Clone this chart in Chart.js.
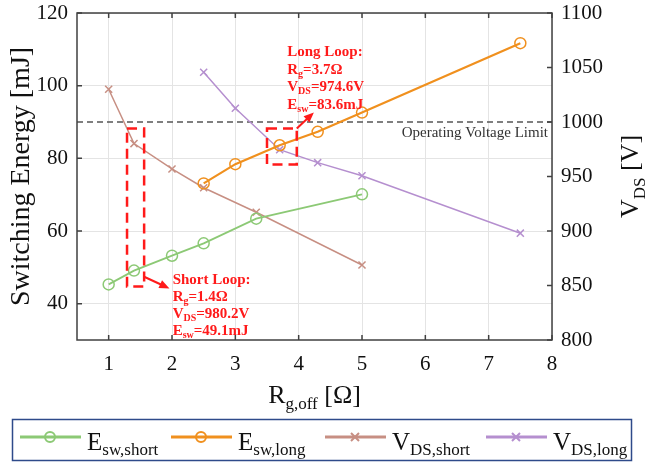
<!DOCTYPE html>
<html>
<head>
<meta charset="utf-8">
<script src="https://cdn.jsdelivr.net/npm/chart.js@4.4.1/dist/chart.umd.min.js"></script>
<style>
body { margin: 0; background: #fff; }
#wrap { width: 647px; height: 463px; }
</style>
</head>
<body>
<div id="wrap"><canvas id="swChart"></canvas></div>
<script>
// values
const rgShort = [1, 1.4, 2, 2.5, 3.33, 5];
const eswShort = [45.3, 49.1, 53.2, 56.6, 63.4, 70.1];
const vdsShort = [1030, 980.2, 956.9, 939.7, 917.2, 868.8];

const rgLong = [2.5, 3, 3.7, 4.3, 5, 7.5];
const eswLong = [73.1, 78.4, 83.6, 87.3, 92.6, 111.7];
const vdsLong = [1045.6, 1012.6, 974.6, 962.7, 950.7, 898];

const xTicks = [1, 2, 3, 4, 5, 6, 7, 8];
const leftTicks = [40, 60, 80, 100, 120];
const rightTicks = [800, 850, 900, 950, 1000, 1050, 1100];
const voltageLimit = 1000;
const limitLabel = 'Operating Voltage Limit';

// legend / titles as [text, isSubscript] pieces
const legendLabels = [
    [['E', 0], ['sw,short', 1]],
    [['E', 0], ['sw,long', 1]],
    [['V', 0], ['DS,short', 1]],
    [['V', 0], ['DS,long', 1]]
];
const leftTitle = [['Switching Energy [mJ]', 0]];
const rightTitle = [['V', 0], ['DS', 1], [' [V]', 0]];
const xTitle = [['R', 0], ['g,off', 1], [' [Ω]', 0]];

const longNote = [
    [['Long Loop:', 0]],
    [['R', 0], ['g', 1], ['=3.7Ω', 0]],
    [['V', 0], ['DS', 1], ['=974.6V', 0]],
    [['E', 0], ['sw', 1], ['=83.6mJ', 0]]
];
const shortNote = [
    [['Short Loop:', 0]],
    [['R', 0], ['g', 1], ['=1.4Ω', 0]],
    [['V', 0], ['DS', 1], ['=980.2V', 0]],
    [['E', 0], ['sw', 1], ['=49.1mJ', 0]]
];

const colors = ['#8cc975', '#f0901e', '#c78f83', '#b58fcf'];
const serif = "'Times New Roman', 'Liberation Serif', serif";
const red = '#ff1a1a';

function pts(xs, ys) {
    return xs.map((x, i) => ({x: x, y: ys[i]}));
}

function drawRich(ctx, parts, x, y, font, subFont, drop) {
    parts.forEach(p => {
        ctx.font = p[1] ? subFont : font;
        ctx.fillText(p[0], x, p[1] ? y + drop : y);
        x += ctx.measureText(p[0]).width;
    });
    return x;
}

function richWidth(ctx, parts, font, subFont) {
    let w = 0;
    parts.forEach(p => {
        ctx.font = p[1] ? subFont : font;
        w += ctx.measureText(p[0]).width;
    });
    return w;
}

function drawArrow(ctx, x1, y1, x2, y2) {
    const a = Math.atan2(y2 - y1, x2 - x1);
    const len = 11;
    ctx.beginPath();
    ctx.moveTo(x1, y1);
    ctx.lineTo(x2 - Math.cos(a) * len * 0.8, y2 - Math.sin(a) * len * 0.8);
    ctx.stroke();
    ctx.beginPath();
    ctx.moveTo(x2, y2);
    ctx.lineTo(x2 - len * Math.cos(a - 0.4), y2 - len * Math.sin(a - 0.4));
    ctx.lineTo(x2 - len * Math.cos(a + 0.4), y2 - len * Math.sin(a + 0.4));
    ctx.closePath();
    ctx.fill();
}

const extras = {
    id: 'extras',
    beforeDatasetsDraw(chart) {
        const ctx = chart.ctx;
        const area = chart.chartArea;
        const yr = chart.scales.yR;
        const yl = yr.getPixelForValue(voltageLimit);
        ctx.save();
        ctx.strokeStyle = '#555';
        ctx.lineWidth = 1.5;
        ctx.setLineDash([6, 4]);
        ctx.beginPath();
        ctx.moveTo(area.left, yl);
        ctx.lineTo(area.right, yl);
        ctx.stroke();
        ctx.setLineDash([]);
        ctx.fillStyle = '#333';
        ctx.font = '15px ' + serif;
        ctx.textAlign = 'right';
        ctx.fillText(limitLabel, area.right - 4, yl + 15);
        ctx.restore();
    },
    afterDatasetsDraw(chart) {
        const ctx = chart.ctx;
        const area = chart.chartArea;
        const xs = chart.scales.x, ys = chart.scales.y, yr = chart.scales.yR;
        ctx.save();

        // box and inward ticks
        ctx.strokeStyle = '#404040';
        ctx.lineWidth = 1.5;
        ctx.strokeRect(area.left, area.top, area.right - area.left, area.bottom - area.top);
        ctx.beginPath();
        xTicks.forEach(v => {
            const px = xs.getPixelForValue(v);
            ctx.moveTo(px, area.bottom); ctx.lineTo(px, area.bottom - 5);
            ctx.moveTo(px, area.top); ctx.lineTo(px, area.top + 5);
        });
        leftTicks.forEach(v => {
            const py = ys.getPixelForValue(v);
            ctx.moveTo(area.left, py); ctx.lineTo(area.left + 5, py);
        });
        rightTicks.forEach(v => {
            const py = yr.getPixelForValue(v);
            ctx.moveTo(area.right, py); ctx.lineTo(area.right - 5, py);
        });
        ctx.stroke();

        // red dashed boxes around the chosen points
        ctx.strokeStyle = red;
        ctx.fillStyle = red;
        ctx.lineWidth = 2.5;
        ctx.setLineDash([10, 6]);
        const boxes = [[1.29, 1.56, 88.2, 44.7], [3.5, 3.97, 88.2, 78.3]];
        boxes.forEach(b => {
            const x1 = xs.getPixelForValue(b[0]), x2 = xs.getPixelForValue(b[1]);
            const y1 = ys.getPixelForValue(b[2]), y2 = ys.getPixelForValue(b[3]);
            ctx.strokeRect(x1, y1, x2 - x1, y2 - y1);
        });
        ctx.setLineDash([]);
        ctx.lineWidth = 2;
        drawArrow(ctx, xs.getPixelForValue(3.97), ys.getPixelForValue(88.2),
            xs.getPixelForValue(4.24), ys.getPixelForValue(92.6));
        drawArrow(ctx, xs.getPixelForValue(1.56), ys.getPixelForValue(47.4),
            xs.getPixelForValue(1.96), ys.getPixelForValue(44.2));

        // notes
        const nf = 'bold 15px ' + serif, nsf = 'bold 10px ' + serif;
        let lx = xs.getPixelForValue(3.82), ly = ys.getPixelForValue(108.1);
        longNote.forEach((line, i) => drawRich(ctx, line, lx, ly + i * 17.5, nf, nsf, 3));
        lx = xs.getPixelForValue(2.01); ly = ys.getPixelForValue(45.3);
        shortNote.forEach((line, i) => drawRich(ctx, line, lx, ly + i * 17, nf, nsf, 3));

        // axis titles
        ctx.fillStyle = '#111';
        const tf = '26px ' + serif, tsf = '17px ' + serif;
        const midY = (area.top + area.bottom) / 2;
        const lt = '28px ' + serif;
        let w = richWidth(ctx, leftTitle, lt, tsf);
        ctx.save();
        ctx.translate(29, midY);
        ctx.rotate(-Math.PI / 2);
        drawRich(ctx, leftTitle, -w / 2, 0, lt, tsf, 6);
        ctx.restore();
        w = richWidth(ctx, rightTitle, tf, tsf);
        ctx.save();
        ctx.translate(638, midY);
        ctx.rotate(-Math.PI / 2);
        drawRich(ctx, rightTitle, -w / 2, 0, tf, tsf, 7);
        ctx.restore();
        w = richWidth(ctx, xTitle, tf, tsf);
        drawRich(ctx, xTitle, (area.left + area.right) / 2 - w / 2, 403, tf, tsf, 6);

        // legend
        ctx.strokeStyle = '#2e4a8a';
        ctx.lineWidth = 1.5;
        ctx.strokeRect(12.5, 419.5, 619, 41);
        const lf = '25px ' + serif, lsf = '17px ' + serif;
        const ly0 = 437;
        const starts = [20, 171, 325, 486];
        chart.data.datasets.forEach((ds, i) => {
            const x0 = starts[i];
            ctx.strokeStyle = ds.borderColor;
            ctx.lineWidth = 3;
            ctx.beginPath();
            ctx.moveTo(x0, ly0); ctx.lineTo(x0 + 61, ly0);
            ctx.stroke();
            ctx.lineWidth = 2;
            ctx.beginPath();
            if (ds.pointStyle === 'circle') {
                ctx.arc(x0 + 30, ly0, 5, 0, Math.PI * 2);
            } else {
                ctx.moveTo(x0 + 26, ly0 - 4); ctx.lineTo(x0 + 34, ly0 + 4);
                ctx.moveTo(x0 + 34, ly0 - 4); ctx.lineTo(x0 + 26, ly0 + 4);
            }
            ctx.stroke();
            ctx.fillStyle = '#111';
            drawRich(ctx, legendLabels[i], x0 + 67, 450, lf, lsf, 5);
        });
        ctx.restore();
    }
};

const tickFont = {family: serif, size: 21};
const plainTick = v => String(v);
const fitY = w => s => { s.width = w; s.paddingTop = 0; s.paddingBottom = 0; };

new Chart(document.getElementById('swChart'), {
    type: 'line',
    data: {
        datasets: [{
            label: 'Esw,short',
            data: pts(rgShort, eswShort),
            yAxisID: 'y',
            borderColor: colors[0],
            backgroundColor: 'rgba(0,0,0,0)',
            borderWidth: 1.8,
            pointStyle: 'circle',
            pointRadius: 5.5,
            pointBorderWidth: 1.5
        }, {
            label: 'Esw,long',
            data: pts(rgLong, eswLong),
            yAxisID: 'y',
            borderColor: colors[1],
            backgroundColor: 'rgba(0,0,0,0)',
            borderWidth: 2.2,
            pointStyle: 'circle',
            pointRadius: 5.5,
            pointBorderWidth: 1.5
        }, {
            label: 'VDS,short',
            data: pts(rgShort, vdsShort),
            yAxisID: 'yR',
            borderColor: colors[2],
            backgroundColor: colors[2],
            borderWidth: 1.5,
            pointStyle: 'crossRot',
            pointRadius: 5,
            pointBorderWidth: 1.5
        }, {
            label: 'VDS,long',
            data: pts(rgLong, vdsLong),
            yAxisID: 'yR',
            borderColor: colors[3],
            backgroundColor: colors[3],
            borderWidth: 1.5,
            pointStyle: 'crossRot',
            pointRadius: 5,
            pointBorderWidth: 1.5
        }]
    },
    options: {
        responsive: true,
        maintainAspectRatio: false,
        animation: false,
        layout: {padding: {top: 13, left: 0, right: 0, bottom: 0}},
        plugins: {legend: {display: false}, tooltip: {enabled: false}},
        scales: {
            x: {
                type: 'linear',
                min: 0.5,
                max: 8,
                afterBuildTicks: s => { s.ticks = xTicks.map(v => ({value: v})); },
                afterFit: s => { s.height = 123; s.paddingLeft = 0; s.paddingRight = 0; },
                ticks: {font: tickFont, color: '#111', padding: 12, callback: plainTick},
                grid: {color: '#e4e4e4', drawTicks: false},
                border: {display: false}
            },
            y: {
                position: 'left',
                min: 30,
                max: 120,
                afterBuildTicks: s => { s.ticks = leftTicks.map(v => ({value: v})); },
                afterFit: fitY(77),
                ticks: {font: tickFont, color: '#111', padding: 9, callback: plainTick},
                grid: {color: '#e4e4e4', drawTicks: false},
                border: {display: false}
            },
            yR: {
                position: 'right',
                min: 800,
                max: 1100,
                afterBuildTicks: s => { s.ticks = rightTicks.map(v => ({value: v})); },
                afterFit: fitY(95),
                ticks: {font: tickFont, color: '#111', padding: 9, callback: plainTick},
                grid: {drawOnChartArea: false, drawTicks: false},
                border: {display: false}
            }
        }
    },
    plugins: [extras]
});
</script>
</body>
</html>
